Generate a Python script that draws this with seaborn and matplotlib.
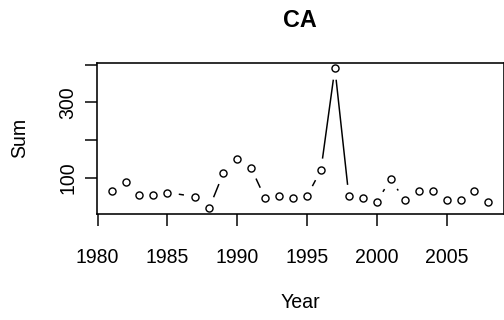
import numpy as np
import matplotlib
matplotlib.use("Agg")
import matplotlib.pyplot as plt
import seaborn as sns
import pandas as pd

years = [1981, 1982, 1983, 1984, 1985, 1987, 1988, 1989, 1990, 1991, 1992,
         1993, 1994, 1995, 1996, 1997, 1998, 1999, 2000, 2001, 2002, 2003,
         2004, 2005, 2006, 2007, 2008]
sums = [65, 89, 54, 54, 60, 49, 19, 111, 150, 125, 45,
        50, 45, 50, 120, 391, 50, 45, 36, 95, 40, 65,
        65, 40, 40, 65, 36]
x_ticks = [1980, 1985, 1990, 1995, 2000, 2005]
y_ticks = [100, 200, 300, 400]
y_tick_labels = ["100", "", "300", ""]
title = "CA"
x_label = "Year"
y_label = "Sum"

df = pd.DataFrame({"Year": years, "Sum": sums})

sns.set_style("white")
plt.rcParams["font.family"] = ["Liberation Sans", "DejaVu Sans"]
for k in ["text.color", "axes.labelcolor", "xtick.color", "ytick.color", "axes.edgecolor"]:
    plt.rcParams[k] = "black"

base = 19.5
fig = plt.figure(figsize=(504 / 72, 320 / 72), dpi=72)
ax = fig.add_axes([96.5 / 504, (320 - 213.5) / 320, (503.5 - 96.5) / 504, (213.5 - 62.7) / 320])

xmin, xmax = min(years), max(years)
ymin, ymax = min(sums), max(sums)
ax.set_xlim(xmin - 0.04 * (xmax - xmin), xmax + 0.04 * (xmax - xmin))
ax.set_ylim(ymin - 0.04 * (ymax - ymin), ymax + 0.04 * (ymax - ymin))

sns.scatterplot(data=df, x="Year", y="Sum", ax=ax, marker="o",
                facecolor="white", edgecolor="black", s=50, linewidth=1.4,
                zorder=3)

# type="b" style line segments with gaps around points
gap = 11.5
pts = ax.transData.transform(np.column_stack([years, sums]))
inv = ax.transData.inverted()
for (x0, y0), (x1, y1) in zip(pts[:-1], pts[1:]):
    d = np.hypot(x1 - x0, y1 - y0)
    if d <= 2 * gap:
        continue
    ux, uy = (x1 - x0) / d, (y1 - y0) / d
    a = inv.transform((x0 + ux * gap, y0 + uy * gap))
    b = inv.transform((x1 - ux * gap, y1 - uy * gap))
    ax.plot([a[0], b[0]], [a[1], b[1]], color="black", lw=1.5,
            solid_capstyle="butt", zorder=2)

ax.set_xticks(x_ticks)
ax.set_xticklabels([str(t) for t in x_ticks])
ax.set_yticks(y_ticks)
ax.set_yticklabels(y_tick_labels)

for s in ax.spines.values():
    s.set_visible(True)
    s.set_color("black")
    s.set_linewidth(1.6)

ax.tick_params(axis="both", direction="out", length=11.7, width=1.5,
               colors="black", labelsize=base, bottom=True, left=True)
ax.tick_params(axis="x", pad=23)
ax.tick_params(axis="y", pad=7.4, labelrotation=90)
for lab in ax.get_yticklabels():
    lab.set_va("center")

ax.set_title(title, fontsize=base * 1.2, fontweight="bold", pad=35.4, color="black")
ax.set_xlabel(x_label, fontsize=base, color="black")
ax.set_ylabel(y_label, fontsize=base, color="black")
ax.xaxis.set_label_coords(0.5, -0.53)
ax.yaxis.set_label_coords(-0.166, 0.5)

fig.savefig("out.png", dpi=72, facecolor="white")
